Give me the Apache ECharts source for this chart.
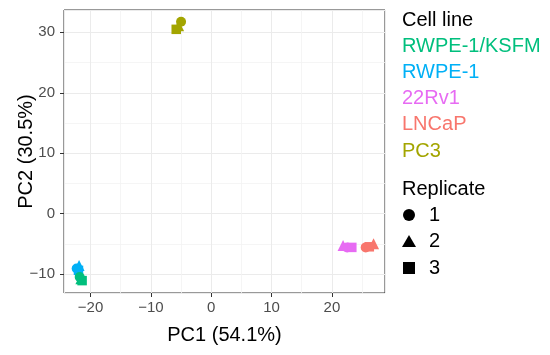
<!DOCTYPE html>
<html>
<head>
<meta charset="utf-8">
<script src="https://cdn.jsdelivr.net/npm/echarts@6/dist/echarts.min.js"></script>
<style>
html,body{margin:0;padding:0;background:#fff;}
#chart{width:550px;height:355px;}
</style>
</head>
<body>
<div id="chart"></div>
<script>
// Cell lines (legend order) and colours
const cellLines = ['RWPE-1/KSFM', 'RWPE-1', '22Rv1', 'LNCaP', 'PC3'];
const cellColors = ['#00BF7D', '#00B0F6', '#E76BF3', '#F8766D', '#A3A500'];
const replicates = ['1', '2', '3'];
const replicateSymbols = ['circle', 'triangle', 'rect'];

// PC scores per cell line, replicates 1,2,3
const ksfmPC1 = [-21.8, -21.6, -21.4];
const ksfmPC2 = [-10.5, -10.8, -11.1];
const rwpePC1 = [-22.3, -21.9, -22.0];
const rwpePC2 = [-9.1, -8.6, -9.4];
const rv1PC1 = [22.5, 21.85, 23.3];
const rv1PC2 = [-5.6, -5.3, -5.6];
const lncapPC1 = [25.6, 26.9, 26.2];
const lncapPC2 = [-5.6, -5.0, -5.5];
const pc3PC1 = [-5.0, -5.4, -5.8];
const pc3PC2 = [31.75, 31.1, 30.5];

const pc1Sets = [ksfmPC1, rwpePC1, rv1PC1, lncapPC1, pc3PC1];
const pc2Sets = [ksfmPC2, rwpePC2, rv1PC2, lncapPC2, pc3PC2];

const xTitle = 'PC1 (54.1%)';
const yTitle = 'PC2 (30.5%)';

const FONT = '"Liberation Sans", Arial, sans-serif';
const symSize = {circle: 10, triangle: 11, rect: 9.5};

const drawOrder = [4, 3, 2, 1, 0];
const series = drawOrder.map(ci => ({
  name: cellLines[ci],
  type: 'scatter',
  itemStyle: {color: cellColors[ci], opacity: 1},
  data: replicates.map((r, ri) => ({
    value: [pc1Sets[ci][ri], pc2Sets[ci][ri]],
    symbol: replicateSymbols[ri],
    symbolSize: symSize[replicateSymbols[ri]]
  })),
  emphasis: {disabled: true},
  animation: false
}));

// legend built as graphics
const legendX = 402;
const graphics = [];
graphics.push({type: 'text', left: legendX, top: 10, style: {text: 'Cell line', fill: '#000', font: '20px ' + FONT}});
cellLines.forEach((c, i) => {
  graphics.push({type: 'text', left: legendX, top: 36 + i * 26.3, style: {text: c, fill: cellColors[i], font: '20px ' + FONT}});
});
graphics.push({type: 'text', left: legendX, top: 179, style: {text: 'Replicate', fill: '#000', font: '20px ' + FONT}});
const shapeTop = 215;
replicates.forEach((r, i) => {
  const cy = shapeTop + i * 26.5;
  let shape;
  if (i === 0) shape = {type: 'circle', shape: {cx: 409, cy: cy, r: 6}, style: {fill: '#000'}};
  else if (i === 1) shape = {type: 'polygon', shape: {points: [[409, cy - 6.5], [416, cy + 5.5], [402, cy + 5.5]]}, style: {fill: '#000'}};
  else shape = {type: 'rect', shape: {x: 403, y: cy - 6, width: 12, height: 12}, style: {fill: '#000'}};
  graphics.push(shape);
  graphics.push({type: 'text', left: 429, top: cy - 10, style: {text: r, fill: '#000', font: '20px ' + FONT}});
});

const fmt = v => String(v).replace('-', '\u2212');

const axisCommon = {
  type: 'value', splitNumber: 5,
  nameLocation: 'middle', nameMoveOverlap: false,
  nameTextStyle: {fontSize: 20, color: '#000', fontFamily: FONT},
  axisLine: {show: false, onZero: false},
  axisTick: {show: true, length: 4, lineStyle: {color: '#333'}},
  axisLabel: {fontSize: 15, color: '#4D4D4D', fontFamily: FONT, margin: 7, showMinLabel: false, showMaxLabel: false, formatter: fmt},
  splitLine: {show: true, lineStyle: {color: '#EBEBEB', width: 1}},
  minorTick: {show: false, splitNumber: 2},
  minorSplitLine: {show: true, lineStyle: {color: '#F2F2F2', width: 0.8}}
};

const chart = echarts.init(document.getElementById('chart'), null, {renderer: 'canvas'});
chart.setOption({
  animation: false,
  backgroundColor: '#fff',
  grid: {left: 64, top: 10, width: 321, height: 283, show: true, borderColor: '#333', borderWidth: 1, backgroundColor: 'transparent'},
  xAxis: Object.assign({}, axisCommon, {min: -24.4, max: 28.8, name: xTitle, nameGap: 32}),
  yAxis: Object.assign({}, axisCommon, {min: -13.15, max: 33.7, name: yTitle, nameGap: 28, nameRotate: 90,
    axisLabel: Object.assign({}, axisCommon.axisLabel, {margin: 9})}),
  series: series,
  graphic: graphics
});
</script>
</body>
</html>
